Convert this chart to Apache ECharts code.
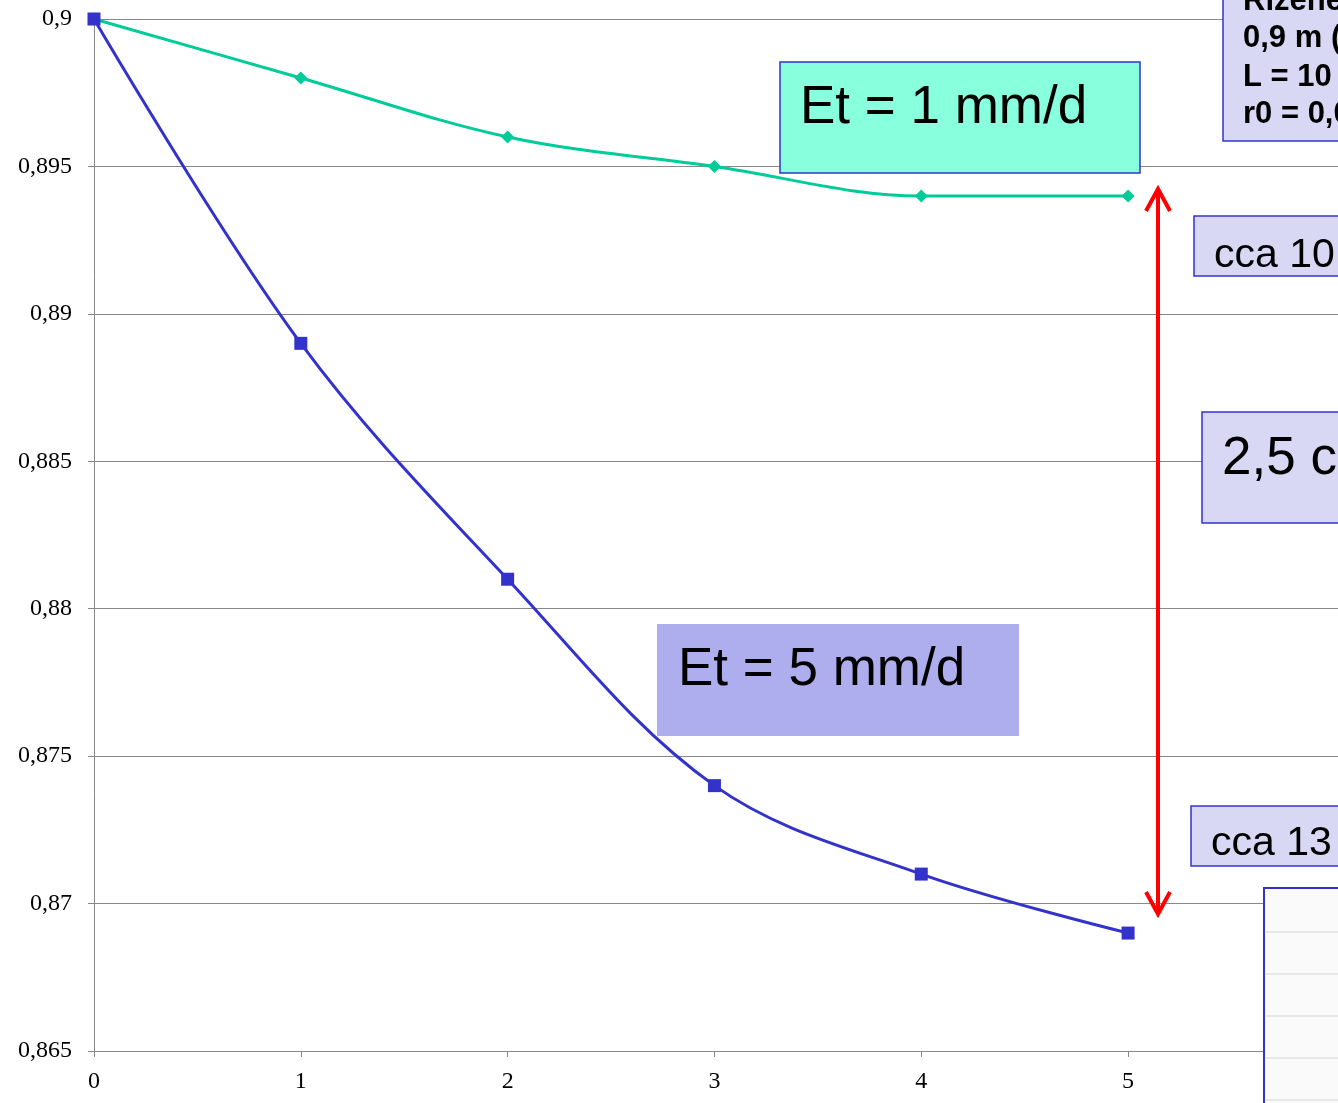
<!DOCTYPE html>
<html><head><meta charset="utf-8">
<script src="https://cdn.jsdelivr.net/npm/echarts@6/dist/echarts.min.js"></script>
<style>html,body{margin:0;padding:0;background:#fff}#c{width:1338px;height:1103px}</style>
</head><body><div id="c"></div>
<script>
var xValues = [0, 1, 2, 3, 4, 5];
var et1 = [0.9, 0.898, 0.896, 0.895, 0.894, 0.894];
var et5 = [0.9, 0.889, 0.881, 0.874, 0.871, 0.869];
var yTicks = [0.865, 0.87, 0.875, 0.88, 0.885, 0.89, 0.895, 0.9];

var chart = echarts.init(document.getElementById('c'), null, {renderer: 'canvas'});
function pairs(v){ return xValues.map(function(x,i){ return [x, v[i]]; }); }
var boxBlue = '#3333CC';
chart.setOption({
  animation: false,
  grid: {left: 94, right: 0, top: 19, bottom: 52, containLabel: false},
  xAxis: {
    type: 'value', min: 0, max: 6.015, interval: 1,
    axisLine: {lineStyle: {color: '#888', width: 1}},
    axisTick: {show: true, length: 6, lineStyle: {color: '#888'}, customValues: xValues},
    axisLabel: {customValues: xValues, color: '#000', fontFamily: 'Liberation Serif', fontSize: 24, margin: 19},
    splitLine: {show: false}
  },
  yAxis: {
    type: 'value', min: 0.865, max: 0.9, interval: 0.005,
    axisLine: {show: true, lineStyle: {color: '#888', width: 1}},
    axisTick: {show: true, length: 6, lineStyle: {color: '#888'}},
    axisLabel: {color: '#000', fontFamily: 'Liberation Serif', fontSize: 24, margin: 22,
      formatter: function(v){ return String(parseFloat(v.toFixed(3))).replace('.', ','); }},
    splitLine: {lineStyle: {color: '#888', width: 1}}
  },
  series: [
    {type: 'line', data: pairs(et1), smooth: 0.35, symbol: 'diamond', symbolSize: 13,
      lineStyle: {color: '#00CC99', width: 3}, itemStyle: {color: '#00CC99'}, z: 3},
    {type: 'line', data: pairs(et5), smooth: 0.35, symbol: 'rect', symbolSize: 13,
      lineStyle: {color: '#3333CC', width: 3}, itemStyle: {color: '#3333CC'}, z: 4}
  ],
  graphic: [
    {type: 'rect', shape: {x: 780, y: 62, width: 360, height: 111}, style: {fill: '#88FFDD', stroke: boxBlue, lineWidth: 1.5}, z: 10},
    {type: 'text', x: 800, y: 108, style: {text: 'Et = 1 mm/d', font: '53px "Liberation Sans", Arial', fill: '#000', textVerticalAlign: 'middle'}, z: 11},
    {type: 'rect', shape: {x: 657, y: 624, width: 362, height: 112}, style: {fill: '#AEAEEE'}, z: 10},
    {type: 'text', x: 678, y: 670, style: {text: 'Et = 5 mm/d', font: '53px "Liberation Sans", Arial', fill: '#000', textVerticalAlign: 'middle'}, z: 11},
    {type: 'rect', shape: {x: 1223, y: -20, width: 140, height: 161}, style: {fill: '#D8D8F4', stroke: boxBlue, lineWidth: 1.5}, z: 10},
    {type: 'text', x: 1243, y: 1, style: {text: 'Řízené', font: 'bold 31px "Liberation Sans", Arial', fill: '#000', textVerticalAlign: 'middle'}, z: 11},
    {type: 'text', x: 1243, y: 38, style: {text: '0,9 m (', font: 'bold 31px "Liberation Sans", Arial', fill: '#000', textVerticalAlign: 'middle'}, z: 11},
    {type: 'text', x: 1243, y: 77, style: {text: 'L = 10', font: 'bold 31px "Liberation Sans", Arial', fill: '#000', textVerticalAlign: 'middle'}, z: 11},
    {type: 'text', x: 1243, y: 114, style: {text: 'r0 = 0,0', font: 'bold 31px "Liberation Sans", Arial', fill: '#000', textVerticalAlign: 'middle'}, z: 11},
    {type: 'rect', shape: {x: 1194, y: 216, width: 160, height: 60}, style: {fill: '#D8D8F4', stroke: boxBlue, lineWidth: 1.5}, z: 10},
    {type: 'text', x: 1214, y: 256, style: {text: 'cca 10', font: '41px "Liberation Sans", Arial', fill: '#000', textVerticalAlign: 'middle'}, z: 11},
    {type: 'rect', shape: {x: 1202, y: 412, width: 160, height: 111}, style: {fill: '#D8D8F4', stroke: boxBlue, lineWidth: 1.5}, z: 10},
    {type: 'text', x: 1222, y: 459, style: {text: '2,5 cm', font: '53px "Liberation Sans", Arial', fill: '#000', textVerticalAlign: 'middle'}, z: 11},
    {type: 'rect', shape: {x: 1191, y: 806, width: 160, height: 60}, style: {fill: '#D8D8F4', stroke: boxBlue, lineWidth: 1.5}, z: 10},
    {type: 'text', x: 1211, y: 844, style: {text: 'cca 13', font: '41px "Liberation Sans", Arial', fill: '#000', textVerticalAlign: 'middle'}, z: 11},
    {type: 'rect', shape: {x: 1264, y: 888, width: 100, height: 240}, style: {fill: '#FAFAFA', stroke: boxBlue, lineWidth: 2}, z: 10},
    {type: 'line', shape: {x1: 1266, y1: 932, x2: 1338, y2: 932}, style: {stroke: '#E2E2E2', lineWidth: 1.5}, z: 11},
    {type: 'line', shape: {x1: 1266, y1: 974, x2: 1338, y2: 974}, style: {stroke: '#E2E2E2', lineWidth: 1.5}, z: 11},
    {type: 'line', shape: {x1: 1266, y1: 1016, x2: 1338, y2: 1016}, style: {stroke: '#E2E2E2', lineWidth: 1.5}, z: 11},
    {type: 'line', shape: {x1: 1266, y1: 1058, x2: 1338, y2: 1058}, style: {stroke: '#E2E2E2', lineWidth: 1.5}, z: 11},
    {type: 'line', shape: {x1: 1266, y1: 1100, x2: 1338, y2: 1100}, style: {stroke: '#E2E2E2', lineWidth: 1.5}, z: 11},
    {type: 'line', shape: {x1: 1158, y1: 190, x2: 1158, y2: 912}, style: {stroke: '#FF0000', lineWidth: 4}, z: 12},
    {type: 'polyline', shape: {points: [[1146, 211], [1158, 189], [1170, 211]]}, style: {stroke: '#FF0000', lineWidth: 4, fill: null}, z: 12},
    {type: 'polyline', shape: {points: [[1146, 892], [1158, 914], [1170, 892]]}, style: {stroke: '#FF0000', lineWidth: 4, fill: null}, z: 12}
  ]
});
</script></body></html>
